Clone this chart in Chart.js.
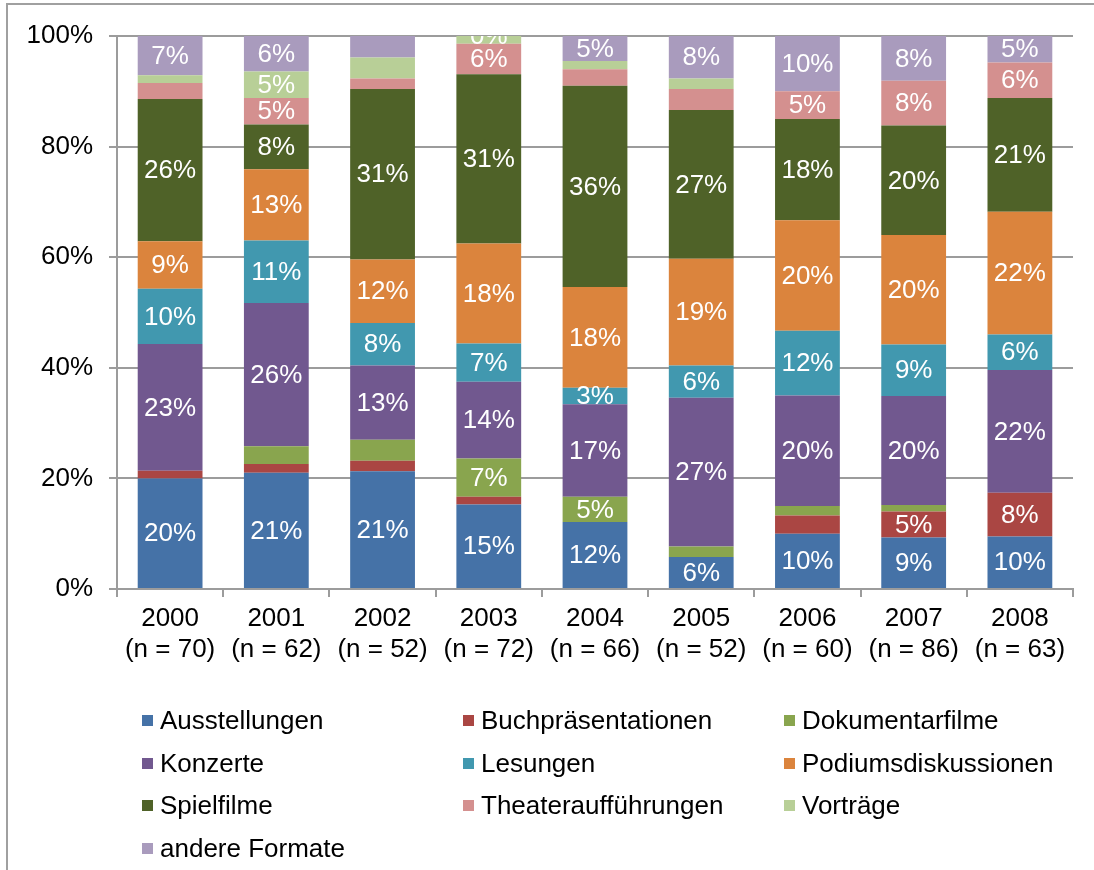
<!DOCTYPE html>
<html lang="de">
<head>
<meta charset="utf-8">
<title>Veranstaltungsformate 2000–2008</title>
<script src="https://cdn.jsdelivr.net/npm/chart.js"></script>
<style>
  body { margin: 0; background: #fff; font-family: "Liberation Sans", Arial, sans-serif; }
  #wrap { position: relative; width: 1094px; height: 870px; overflow: hidden; }
  #rahmen { position: absolute; left: 6px; top: 3px; width: 1200px; height: 1000px;
            border-left: 2px solid #a0a0a0; border-top: 2px solid #a0a0a0; }
  #chartBox { position: absolute; left: 0; top: 0; width: 1094px; height: 870px; }
  #legende { position: absolute; left: 142px; top: 699px; display: grid;
             grid-template-columns: 321px 321px 321px; grid-auto-rows: 42.7px;
             align-items: center; font-size: 26px; color: #000; }
  .eintrag { display: flex; align-items: center; white-space: nowrap; }
  .eintrag span { display: inline-block; width: 11px; height: 11px; margin-right: 7px; }
</style>
</head>
<body>
<div id="wrap">
  <div id="rahmen"></div>
  <div id="chartBox"><canvas id="formatChart"></canvas></div>
  <div id="legende"></div>
</div>
<script>
// Jahre und Anzahl der Veranstaltungen
const jahre = ['2000', '2001', '2002', '2003', '2004', '2005', '2006', '2007', '2008'];
const anzahl = [70, 62, 52, 72, 66, 52, 60, 86, 63];

// Anteile in Prozent je Format
const ausstellungen       = [20.0, 21.0, 21.3, 15.3, 12.1,  5.8, 10.0,  9.3,  9.5];
const buchpraesentationen = [ 1.4,  1.6,  1.9,  1.4,  0,    0,    3.3,  4.7,  7.9];
const dokumentarfilme     = [ 0,    3.2,  3.8,  6.9,  4.6,  1.9,  1.7,  1.2,  0];
const konzerte            = [22.9, 25.9, 13.4, 13.9, 16.7, 26.9, 20.0, 19.7, 22.2];
const lesungen            = [10.0, 11.3,  7.7,  6.9,  3.0,  5.8, 11.7,  9.3,  6.4];
const podiumsdiskussionen = [ 8.6, 12.9, 11.5, 18.1, 18.2, 19.3, 20.0, 19.8, 22.2];
const spielfilme          = [25.7,  8.1, 30.8, 30.6, 36.4, 26.9, 18.3, 19.8, 20.6];
const theater             = [ 2.9,  4.8,  1.9,  5.5,  3.0,  3.8,  5.0,  8.1,  6.4];
const vortraege           = [ 1.4,  4.8,  3.8,  1.4,  1.5,  1.9,  0,    0,    0];
const andereFormate       = [ 7.1,  6.4,  3.9,  0,    4.5,  7.7, 10.0,  8.1,  4.8];

// kleine Segmente, die trotzdem beschriftet werden
const extraLabels = [['andere Formate', '2003'], ['Lesungen', '2004']];

const yTicks = [0, 20, 40, 60, 80, 100];

const serien = [
    { label: 'Ausstellungen',        data: ausstellungen,       color: '#4572A7' },
    { label: 'Buchpräsentationen',   data: buchpraesentationen, color: '#AA4643' },
    { label: 'Dokumentarfilme',      data: dokumentarfilme,     color: '#89A54E' },
    { label: 'Konzerte',             data: konzerte,            color: '#71588F' },
    { label: 'Lesungen',             data: lesungen,            color: '#4198AF' },
    { label: 'Podiumsdiskussionen',  data: podiumsdiskussionen, color: '#DB843D' },
    { label: 'Spielfilme',           data: spielfilme,          color: '#4F6228' },
    { label: 'Theateraufführungen',  data: theater,             color: '#D4908F' },
    { label: 'Vorträge',             data: vortraege,           color: '#B8CF97' },
    { label: 'andere Formate',       data: andereFormate,       color: '#A99BBD' }
];

const FONT = '"Liberation Sans", Arial, sans-serif';
const GRID = '#9c9c9c';

function labelSichtbar(name, idx, wert) {
    if (wert >= 4.5) return true;
    return extraLabels.some(([n, j]) => n === name && j === jahre[idx]);
}

// Prozentwerte mittig in die Segmente schreiben
const segmentLabels = {
    id: 'segmentLabels',
    afterDatasetsDraw(chart) {
        const { ctx, chartArea } = chart;
        ctx.save();
        ctx.beginPath();
        ctx.rect(chartArea.left, chartArea.top, chartArea.right - chartArea.left, chartArea.bottom - chartArea.top);
        ctx.clip();
        ctx.font = '26px ' + FONT;
        ctx.fillStyle = '#fff';
        ctx.textAlign = 'center';
        ctx.textBaseline = 'middle';
        chart.data.datasets.forEach((ds, i) => {
            const meta = chart.getDatasetMeta(i);
            meta.data.forEach((bar, j) => {
                const v = ds.data[j];
                if (!labelSichtbar(ds.label, j, v)) return;
                ctx.fillText(Math.round(v) + '%', bar.x, (bar.y + bar.base) / 2 + 1);
            });
        });
        ctx.restore();
    }
};

function renderChart() {
    const ctx = document.getElementById('formatChart').getContext('2d');
    Chart.defaults.font.family = FONT;
    Chart.defaults.color = '#000';

    new Chart(ctx, {
        type: 'bar',
        data: {
            labels: jahre.map((j, i) => [j, `(n = ${anzahl[i]})`]),
            datasets: serien.map(s => ({
                label: s.label,
                data: s.data,
                backgroundColor: s.color,
                borderWidth: 0,
                barPercentage: 1,
                categoryPercentage: 0.61
            }))
        },
        options: {
            responsive: true,
            maintainAspectRatio: false,
            animation: false,
            layout: { padding: { top: 36, right: 21, bottom: 0, left: 0 } },
            plugins: {
                legend: { display: false },
                tooltip: { enabled: false }
            },
            scales: {
                x: {
                    stacked: true,
                    grid: { display: true, drawOnChartArea: false, drawTicks: true, tickLength: 8, color: GRID, lineWidth: 2, offset: true },
                    border: { display: true, color: GRID, width: 2 },
                    ticks: { font: { size: 26 }, padding: 6, maxRotation: 0, autoSkip: false, color: '#000' },
                    afterFit: scale => { scale.height = 281; }
                },
                y: {
                    stacked: true,
                    min: 0,
                    max: 100,
                    afterBuildTicks: scale => { scale.ticks = yTicks.map(v => ({ value: v })); },
                    grid: { color: GRID, lineWidth: 2, tickLength: 8 },
                    border: { display: true, color: GRID, width: 2 },
                    ticks: {
                        font: { size: 26 },
                        padding: 16,
                        color: '#000',
                        callback: value => value + '%'
                    },
                    afterFit: scale => { scale.width = 117; }
                }
            }
        },
        plugins: [segmentLabels]
    });
}

// Legende als HTML-Raster in drei Spalten
function renderLegend() {
    const box = document.getElementById('legende');
    serien.forEach(s => {
        const item = document.createElement('div');
        item.className = 'eintrag';
        const sw = document.createElement('span');
        sw.style.background = s.color;
        item.appendChild(sw);
        item.appendChild(document.createTextNode(s.label));
        box.appendChild(item);
    });
}

renderChart();
renderLegend();
</script>
</body>
</html>
